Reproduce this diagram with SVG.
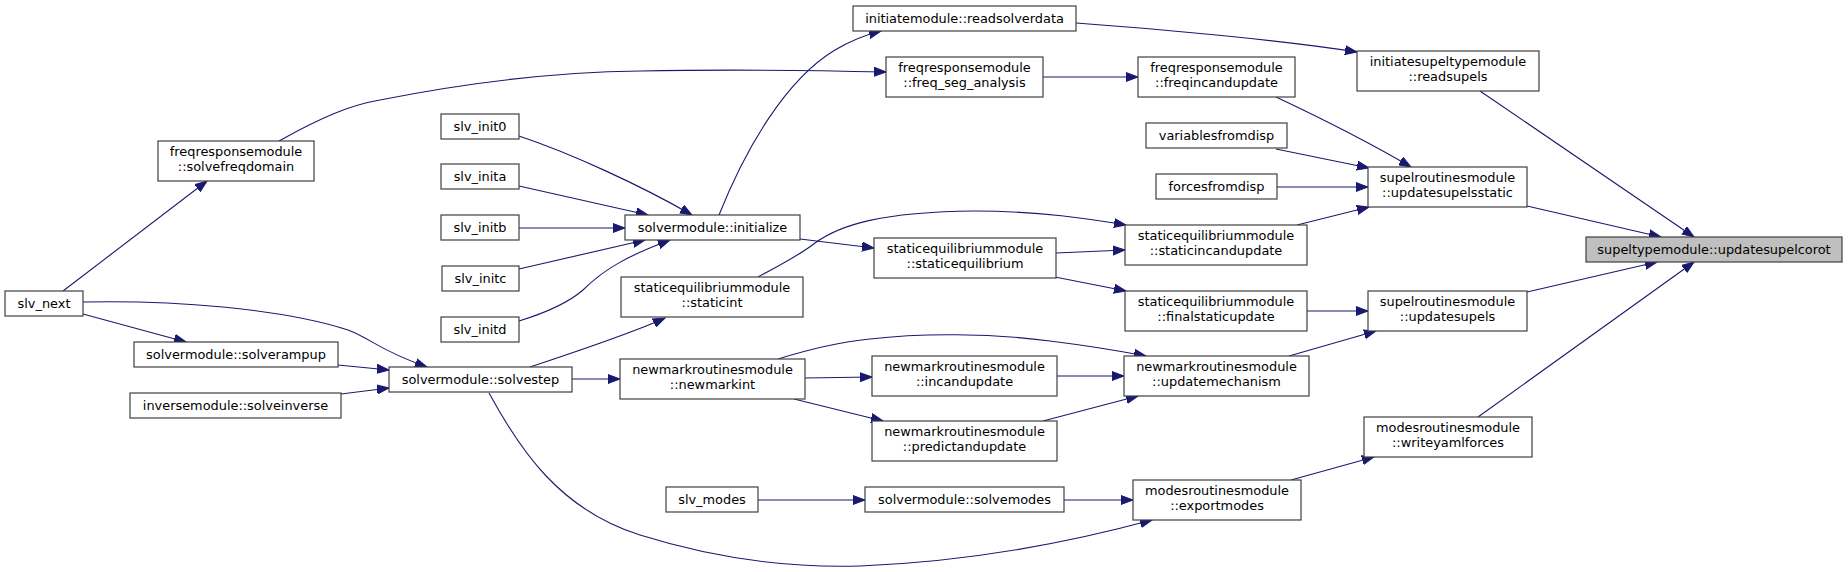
<svg xmlns="http://www.w3.org/2000/svg" width="1848" height="572" viewBox="0 0 1848 572">
<style>
.n rect{fill:#ffffff;stroke:#404040;stroke-width:1.2}
.n.sel rect{fill:#bfbfbf}
.n text{font-family:"DejaVu Sans","Liberation Sans",sans-serif;font-size:12.9px;fill:#000;text-anchor:middle}
#edges path{fill:none;stroke:#191970;stroke-width:1.1;marker-end:url(#arr)}
</style>
<defs>
<marker id="arr" markerWidth="13" markerHeight="10" refX="12" refY="5" orient="auto" markerUnits="userSpaceOnUse">
<path d="M0,0.5 L12,5 L0,9.5 z" fill="#191970" stroke="#191970" stroke-width="1"/>
</marker>
</defs>
<rect width="1848" height="572" fill="#ffffff"/>
<g id="edges">
<path d="M63,291 L207,181"/>
<path d="M83,314 L186,342"/>
<path d="M83,302 C170,300 280,308 348,330 C372,339 378,350 427,367"/>
<path d="M338,365 L389,370"/>
<path d="M341,394 L389,388"/>
<path d="M279,141 C320,118 350,105 380,100 C470,82 560,72 640,71 C740,69 800,70 886,72"/>
<path d="M519,136 C570,153 640,185 692,215"/>
<path d="M519,186 L648,215"/>
<path d="M519,228 L625,228"/>
<path d="M519,269 L645,240"/>
<path d="M519,321 C545,313 568,303 583,290 C605,268 630,255 670,240"/>
<path d="M530,367 C575,352 630,334 665,318"/>
<path d="M572,379 L620,379"/>
<path d="M489,393 C520,450 560,510 640,535 C720,560 790,568 860,566 C960,562 1060,545 1152,520"/>
<path d="M719,215 C745,150 785,80 835,50 C850,41 865,35 881,31"/>
<path d="M800,239 L874,248"/>
<path d="M758,277 C780,265 800,255 815,243 C840,225 880,212 975,211 C1040,211 1090,219 1126,225"/>
<path d="M1056,253 L1125,250"/>
<path d="M1055,277 L1126,291"/>
<path d="M1043,77 L1138,77"/>
<path d="M1076,23 C1160,29 1280,40 1357,52"/>
<path d="M1276,97 C1310,113 1360,137 1411,167"/>
<path d="M1276,149 L1369,168"/>
<path d="M1277,187 L1368,187"/>
<path d="M1297,225 L1369,207"/>
<path d="M805,378 L872,377"/>
<path d="M794,399 L883,421"/>
<path d="M778,359 C810,349 840,342 870,339 C920,333 990,333 1050,341 C1090,346 1120,351 1146,356"/>
<path d="M1057,376 L1124,376"/>
<path d="M1043,421 L1138,396"/>
<path d="M1307,311 L1368,311"/>
<path d="M1289,356 L1376,331"/>
<path d="M758,500 L865,500"/>
<path d="M1064,500 L1133,500"/>
<path d="M1291,480 L1374,457"/>
<path d="M1480,91 L1694,237"/>
<path d="M1527,206 L1661,237"/>
<path d="M1527,292 L1657,262"/>
<path d="M1478,417 L1694,262"/>
</g>
<g id="n_corot" class="n sel"><rect x="1586" y="237" width="256" height="25"/><text x="1714" y="254">supeltypemodule::updatesupelcorot</text></g>
<g id="n_readsupels" class="n"><rect x="1357" y="51" width="182" height="40"/><text x="1448" y="66">initiatesupeltypemodule</text><text x="1448" y="81">::readsupels</text></g>
<g id="n_supelsstatic" class="n"><rect x="1368" y="167" width="159" height="40"/><text x="1447.5" y="182">supelroutinesmodule</text><text x="1447.5" y="197">::updatesupelsstatic</text></g>
<g id="n_updatesupels" class="n"><rect x="1368" y="291" width="159" height="40"/><text x="1447.5" y="306">supelroutinesmodule</text><text x="1447.5" y="321">::updatesupels</text></g>
<g id="n_writeyaml" class="n"><rect x="1364" y="417" width="168" height="40"/><text x="1448" y="432">modesroutinesmodule</text><text x="1448" y="447">::writeyamlforces</text></g>
<g id="n_readsolverdata" class="n"><rect x="853" y="6" width="223" height="25"/><text x="964.5" y="23">initiatemodule::readsolverdata</text></g>
<g id="n_freqinc" class="n"><rect x="1138" y="57" width="157" height="40"/><text x="1216.5" y="72">freqresponsemodule</text><text x="1216.5" y="87">::freqincandupdate</text></g>
<g id="n_varfromdisp" class="n"><rect x="1146" y="123" width="141" height="25"/><text x="1216.5" y="140">variablesfromdisp</text></g>
<g id="n_forcesfromdisp" class="n"><rect x="1156" y="174" width="121" height="25"/><text x="1216.5" y="191">forcesfromdisp</text></g>
<g id="n_staticinc" class="n"><rect x="1125" y="225" width="182" height="40"/><text x="1216" y="240">staticequilibriummodule</text><text x="1216" y="255">::staticincandupdate</text></g>
<g id="n_finalstatic" class="n"><rect x="1125" y="291" width="182" height="40"/><text x="1216" y="306">staticequilibriummodule</text><text x="1216" y="321">::finalstaticupdate</text></g>
<g id="n_updatemech" class="n"><rect x="1124" y="356" width="185" height="40"/><text x="1216.5" y="371">newmarkroutinesmodule</text><text x="1216.5" y="386">::updatemechanism</text></g>
<g id="n_exportmodes" class="n"><rect x="1133" y="480" width="168" height="40"/><text x="1217" y="495">modesroutinesmodule</text><text x="1217" y="510">::exportmodes</text></g>
<g id="n_freqseg" class="n"><rect x="886" y="57" width="157" height="40"/><text x="964.5" y="72">freqresponsemodule</text><text x="964.5" y="87">::freq_seg_analysis</text></g>
<g id="n_initialize" class="n"><rect x="625" y="215" width="175" height="25"/><text x="712.5" y="232">solvermodule::initialize</text></g>
<g id="n_staticeq" class="n"><rect x="874" y="238" width="182" height="40"/><text x="965" y="253">staticequilibriummodule</text><text x="965" y="268">::staticequilibrium</text></g>
<g id="n_staticint" class="n"><rect x="621" y="277" width="182" height="40"/><text x="712" y="292">staticequilibriummodule</text><text x="712" y="307">::staticint</text></g>
<g id="n_newmarkint" class="n"><rect x="620" y="359" width="185" height="40"/><text x="712.5" y="374">newmarkroutinesmodule</text><text x="712.5" y="389">::newmarkint</text></g>
<g id="n_incandupdate" class="n"><rect x="872" y="356" width="185" height="40"/><text x="964.5" y="371">newmarkroutinesmodule</text><text x="964.5" y="386">::incandupdate</text></g>
<g id="n_predict" class="n"><rect x="872" y="421" width="185" height="40"/><text x="964.5" y="436">newmarkroutinesmodule</text><text x="964.5" y="451">::predictandupdate</text></g>
<g id="n_slvmodes" class="n"><rect x="666" y="487" width="92" height="25"/><text x="712" y="504">slv_modes</text></g>
<g id="n_solvemodes" class="n"><rect x="865" y="487" width="199" height="25"/><text x="964.5" y="504">solvermodule::solvemodes</text></g>
<g id="n_solvefreq" class="n"><rect x="158" y="141" width="156" height="40"/><text x="236" y="156">freqresponsemodule</text><text x="236" y="171">::solvefreqdomain</text></g>
<g id="n_init0" class="n"><rect x="441" y="114" width="78" height="25"/><text x="480" y="131">slv_init0</text></g>
<g id="n_inita" class="n"><rect x="441" y="164" width="78" height="25"/><text x="480" y="181">slv_inita</text></g>
<g id="n_initb" class="n"><rect x="441" y="215" width="78" height="25"/><text x="480" y="232">slv_initb</text></g>
<g id="n_initc" class="n"><rect x="442" y="266" width="77" height="25"/><text x="480.5" y="283">slv_initc</text></g>
<g id="n_initd" class="n"><rect x="441" y="317" width="78" height="25"/><text x="480" y="334">slv_initd</text></g>
<g id="n_slvnext" class="n"><rect x="5" y="291" width="78" height="25"/><text x="44" y="308">slv_next</text></g>
<g id="n_solverampup" class="n"><rect x="134" y="342" width="204" height="25"/><text x="236" y="359">solvermodule::solverampup</text></g>
<g id="n_solveinverse" class="n"><rect x="130" y="393" width="211" height="25"/><text x="235.5" y="410">inversemodule::solveinverse</text></g>
<g id="n_solvestep" class="n"><rect x="389" y="367" width="183" height="25"/><text x="480.5" y="384">solvermodule::solvestep</text></g>
</svg>
